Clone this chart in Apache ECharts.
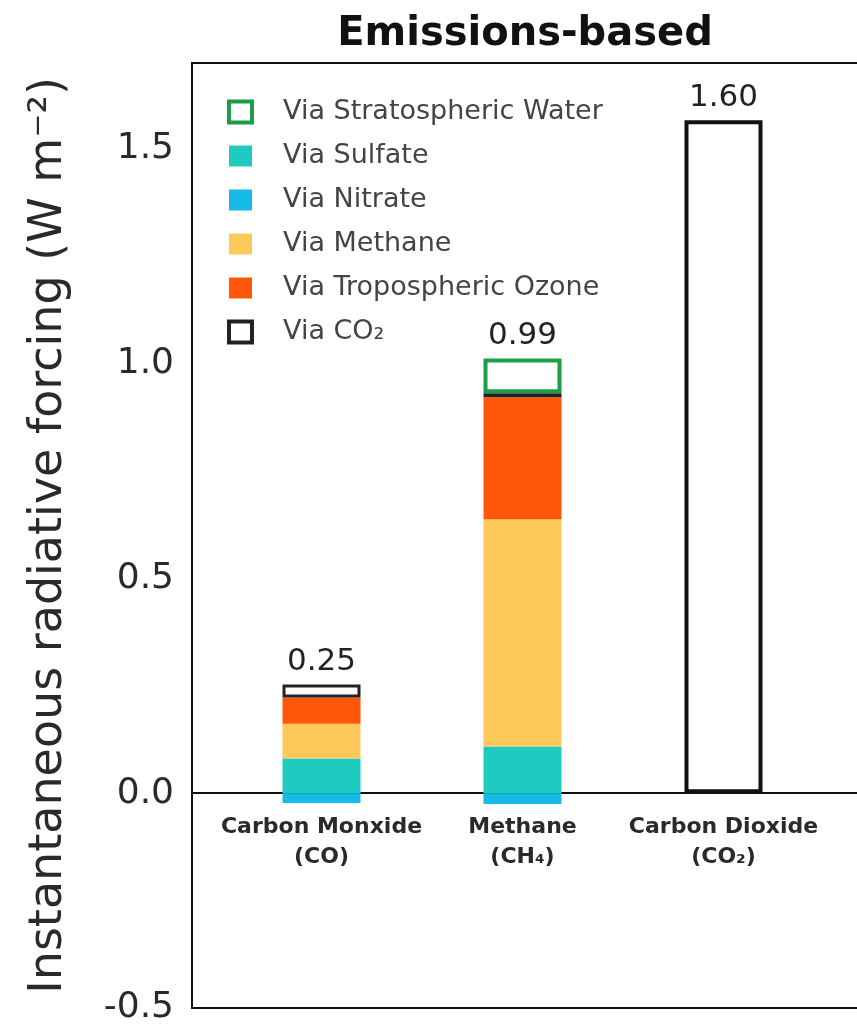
<!DOCTYPE html>
<html><head><meta charset="utf-8">
<script src="https://cdn.jsdelivr.net/npm/echarts@6/dist/echarts.min.js"></script>
<style>html,body{margin:0;padding:0;background:#fff}#c{width:857px;height:1024px}</style>
</head><body><div id="c"></div>
<script>
// ---- data ----
const categories = ['Carbon Monxide\n(CO)', 'Methane\n(CH₄)', 'Carbon Dioxide\n(CO₂)', ''];
const nitrate    = [-0.023, -0.025, null];
const sulfate    = [0.081, 0.109, null];
const methane    = [0.081, 0.529, null];
const ozone      = [0.061, 0.284, null];
const viaCO2     = [0.030, 0.009, 1.567];
const stratWater = [null, 0.081, null];
const totals     = ['0.25', '0.99', '1.60'];
const legendOrder = ['Via Stratospheric Water', 'Via Sulfate', 'Via Nitrate', 'Via Methane', 'Via Tropospheric Ozone', 'Via CO₂'];

const FONT = 'DejaVu Sans';
const Y_MIN = -0.5, Y_MAX = 1.7;
const seriesDefs = [
  { name: 'Via Nitrate', data: nitrate, style: { color: '#17bbe7' } },
  { name: 'Via Sulfate', data: sulfate, style: { color: '#1fcac1' } },
  { name: 'Via Methane', data: methane, style: { color: '#fdc95b' } },
  { name: 'Via Tropospheric Ozone', data: ozone, style: { color: '#ff560a' } },
  { name: 'Via CO₂', data: viaCO2, style: { color: '#ffffff', borderColor: '#222', borderWidth: 3 } },
  { name: 'Via Stratospheric Water', data: stratWater, style: { color: '#ffffff', borderColor: '#1c9e48', borderWidth: 4 } }
];

// index of top-most positive segment per bar
const topIdx = totals.map((t, i) => {
  let idx = -1;
  seriesDefs.forEach((d, si) => { if (d.data[i] != null && d.data[i] > 0) idx = si; });
  return idx;
});

const series = seriesDefs.map((d, si) => ({
  type: 'bar',
  name: d.name,
  stack: 'total',
  xAxisIndex: 1,
  yAxisIndex: 1,
  barWidth: 78,
  itemStyle: d.style,
  emphasis: { disabled: true },
  data: d.data.map((v, i) => {
    if (v == null) return v;
    const item = { value: v };
    if (topIdx[i] === si) {
      item.label = { show: true, position: 'top', distance: 7, formatter: totals[i], fontSize: 31, color: '#222', fontFamily: FONT };
    }
    if (d.name === 'Via CO₂' && v > 1) {
      item.itemStyle = { borderWidth: 4, borderColor: '#111' };
    }
    return item;
  })
}));

const legendData = legendOrder.map(n => {
  if (n === 'Via Stratospheric Water' || n === 'Via CO₂') return { name: n, itemStyle: { borderWidth: 4 } };
  return { name: n };
});

// grid geometry
const GRID_TOP = 63, GRID_BOTTOM = 16, CHART_H = 1024;
const plotH = CHART_H - GRID_TOP - GRID_BOTTOM;
const zeroFromBottom = plotH * (0 - Y_MIN) / (Y_MAX - Y_MIN); // distance of zero line above grid bottom

const chart = echarts.init(document.getElementById('c'), null, { renderer: 'canvas' });
chart.setOption({
  animation: false,
  backgroundColor: '#fff',
  title: {
    text: 'Emissions-based', left: 525, top: 15, textAlign: 'center', padding: 0,
    textStyle: { fontSize: 40, fontWeight: 'bold', color: '#111', fontFamily: FONT }
  },
  legend: {
    orient: 'vertical', left: 227, top: 97, padding: 0, itemWidth: 23, itemHeight: 21, itemGap: 14, icon: 'rect',
    data: legendData, selectedMode: false,
    textStyle: { fontSize: 27, color: '#444', lineHeight: 30, padding: [0, 0, 0, 26], fontFamily: FONT }
  },
  grid: [
    { left: 192, right: -2, top: GRID_TOP, bottom: GRID_BOTTOM, show: true, borderColor: '#111', borderWidth: 2, backgroundColor: 'transparent', outerBoundsMode: 'none', containLabel: false },
    { left: 221, right: -168, top: GRID_TOP, bottom: GRID_BOTTOM, show: false, outerBoundsMode: 'none', containLabel: false }
  ],
  xAxis: [
    { gridIndex: 0, type: 'value', min: 0, max: 1,
      axisLine: { show: true, onZero: true, lineStyle: { color: '#111', width: 2 } },
      axisTick: { show: false }, axisLabel: { show: false }, splitLine: { show: false } },
    { gridIndex: 1, type: 'category', data: categories, show: true, position: 'bottom', offset: -zeroFromBottom,
      axisLine: { show: false, onZero: false }, axisTick: { show: false }, splitLine: { show: false },
      axisLabel: { show: true, interval: 0, fontSize: 22, fontWeight: 'bold', color: '#2a2a2a', lineHeight: 30, margin: 19, fontFamily: FONT } }
  ],
  yAxis: [
    { gridIndex: 0, type: 'value', min: Y_MIN, max: Y_MAX, interval: 0.5,
      axisLine: { show: false, onZero: false }, axisTick: { show: false }, splitLine: { show: false },
      axisLabel: { formatter: v => v.toFixed(1), showMaxLabel: false, fontSize: 36, color: '#2a2a2a', margin: 18, fontFamily: FONT },
      name: 'Instantaneous radiative forcing (W m⁻²)', nameLocation: 'middle', nameGap: 120, nameRotate: 90,
      nameTextStyle: { fontSize: 46, color: '#2a2a2a', fontFamily: FONT } },
    { gridIndex: 1, type: 'value', min: Y_MIN, max: Y_MAX, show: false,
      axisLine: { show: false, onZero: false }, axisTick: { show: false }, axisLabel: { show: false }, splitLine: { show: false } }
  ],
  series: series
});
</script>
</body></html>
